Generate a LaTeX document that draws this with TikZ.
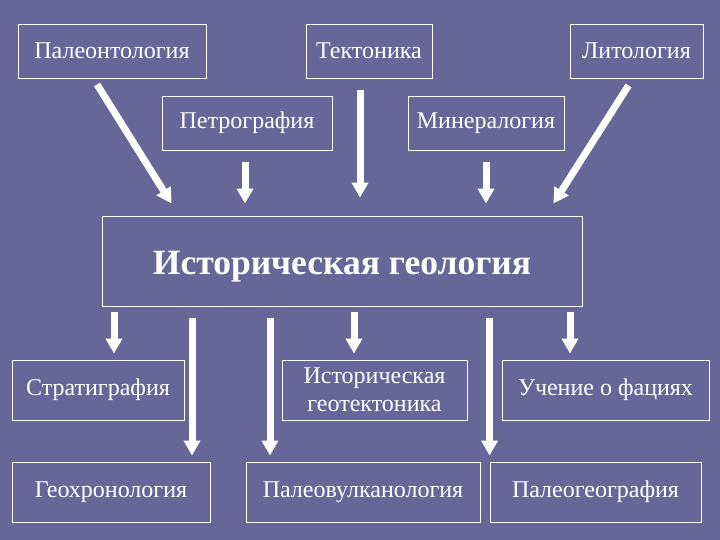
\documentclass[tikz,border=0pt]{standalone}
\usepackage{fontspec}
\setmainfont{Liberation Serif}
\usetikzlibrary{arrows.meta}
\definecolor{slidebg}{HTML}{666699}
\begin{document}
\begin{tikzpicture}[x=1pt, y=-1pt,
    box/.style={draw=white, line width=0.9pt, text=white, align=center, inner sep=0pt,
        font=\fontsize{24}{28}\selectfont},
    arr/.style={white, line width=7pt, -{Triangle[width=16pt,length=15pt]}}]
    \fill[slidebg] (0,0) rectangle (720,540);

    % sources
    \node[box, minimum width=188pt, minimum height=54pt] (paleo) at (112,51) {Палеонтология};
    \node[box, minimum width=126pt, minimum height=54pt] (tekt) at (369,51) {Тектоника};
    \node[box, minimum width=133pt, minimum height=54pt] (lito) at (636.5,51) {Литология};
    \node[box, minimum width=170pt, minimum height=54pt] (petro) at (247,123) {Петрография};
    \node[box, minimum width=156pt, minimum height=54pt] (miner) at (486,123) {Минералогия};

    % main box
    \node[box, minimum width=480pt, minimum height=90pt, text height=34pt, text depth=7.7pt,
        font=\fontsize{35.5}{40}\selectfont\bfseries] (hist) at (342,261) {Историческая геология};

    % branches
    \node[box, minimum width=172pt, minimum height=60pt] (strat) at (98,390) {Стратиграфия};
    \node[box, minimum width=185pt, minimum height=60pt] (geotek) at (374.5,390) {Историческая\\геотектоника};
    \node[box, minimum width=207pt, minimum height=60pt] (facii) at (605.5,390) {Учение о фациях};
    \node[box, minimum width=198pt, minimum height=60pt] (geochr) at (111,492) {Геохронология};
    \node[box, minimum width=234pt, minimum height=60pt] (vulk) at (363,492) {Палеовулканология};
    \node[box, minimum width=211pt, minimum height=60pt] (paleogeo) at (595.5,492) {Палеогеография};

    % arrows into the main box
    \draw[arr] ([xshift=-15pt,yshift=-6pt]paleo.south) -- ([shift={(70pt,12pt)}]hist.north west);
    \draw[arr] ([xshift=-8pt,yshift=-7pt]lito.south) -- ([shift={(-29pt,12pt)}]hist.north east);
    \draw[arr, shorten <=12pt, shorten >=12pt] ([xshift=-2pt]petro.south) -- ([xshift=-2pt]petro.south |- hist.north);
    \draw[arr, shorten <=12pt, shorten >=18pt] ([xshift=-9pt]tekt.south) -- ([xshift=-9pt]tekt.south |- hist.north);
    \draw[arr, shorten <=12pt, shorten >=12pt] (miner.south) -- (miner.south |- hist.north);

    % arrows out of the main box
    \draw[arr, shorten <=6pt, shorten >=6pt] ([xshift=16pt]strat.north |- hist.south) -- ([xshift=16pt]strat.north);
    \draw[arr, shorten <=6pt, shorten >=6pt] ([xshift=-20.5pt]geotek.north |- hist.south) -- ([xshift=-20.5pt]geotek.north);
    \draw[arr, shorten <=6pt, shorten >=6pt] ([xshift=-35.5pt]facii.north |- hist.south) -- ([xshift=-35.5pt]facii.north);
    \draw[arr, shorten <=12pt, shorten >=6pt] ([xshift=81pt]geochr.north |- hist.south) -- ([xshift=81pt]geochr.north);
    \draw[arr, shorten <=12pt, shorten >=6pt] ([xshift=-93pt]vulk.north |- hist.south) -- ([xshift=-93pt]vulk.north);
    \draw[arr, shorten <=12pt, shorten >=6pt] (paleogeo.north west |- hist.south) -- (paleogeo.north west);
\end{tikzpicture}
\end{document}
